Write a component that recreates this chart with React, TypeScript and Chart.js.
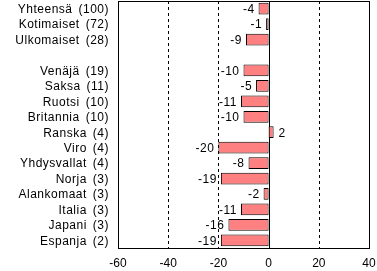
import React, { useEffect, useRef } from 'react';
import { Chart, registerables } from 'chart.js';
Chart.register(...registerables);

const categories = ['Yhteensä', 'Kotimaiset', 'Ulkomaiset', '', 'Venäjä', 'Saksa', 'Ruotsi', 'Britannia', 'Ranska', 'Viro', 'Yhdysvallat', 'Norja', 'Alankomaat', 'Italia', 'Japani', 'Espanja'];
const shares = ['100', '72', '28', '', '19', '11', '10', '10', '4', '4', '4', '3', '3', '3', '3', '2'];
const values: (number | null)[] = [-4, -1, -9, null, -10, -5, -11, -10, 2, -20, -8, -19, -2, -11, -16, -19];
const dashedGrid = [-40, -20, 20];

const FONT = '"Liberation Sans", Arial, sans-serif';

const decorPlugin = {
  id: 'decor',
  beforeDatasetsDraw(chart: any) {
    const { ctx, chartArea, scales } = chart;
    const x = scales.x;
    ctx.save();
    ctx.strokeStyle = '#000';
    ctx.lineWidth = 1;
    ctx.setLineDash([3, 3]);
    dashedGrid.forEach((v) => {
      const px = Math.round(x.getPixelForValue(v)) + 0.5;
      ctx.beginPath();
      ctx.moveTo(px, chartArea.top);
      ctx.lineTo(px, chartArea.bottom);
      ctx.stroke();
    });
    ctx.setLineDash([]);
    const z = Math.round(x.getPixelForValue(0)) + 0.5;
    ctx.beginPath();
    ctx.moveTo(z, chartArea.top);
    ctx.lineTo(z, chartArea.bottom);
    ctx.stroke();
    ctx.strokeRect(
      Math.round(chartArea.left) + 0.5,
      Math.round(chartArea.top) + 0.5,
      Math.round(chartArea.right - chartArea.left),
      Math.round(chartArea.bottom - chartArea.top)
    );
    ctx.restore();
  },
  afterDatasetsDraw(chart: any) {
    const { ctx, chartArea, scales } = chart;
    const x = scales.x;
    const y = scales.y;
    ctx.save();
    ctx.fillStyle = '#000';
    ctx.textBaseline = 'middle';
    ctx.font = `12px ${FONT}`;
    values.forEach((v, i) => {
      if (v === null) return;
      const py = y.getPixelForValue(i) + 1;
      const px = x.getPixelForValue(v);
      (ctx as any).letterSpacing = '0.5px';
      if (v < 0) {
        ctx.textAlign = 'right';
        ctx.fillText(String(v), px - 4, py);
      } else {
        ctx.textAlign = 'left';
        ctx.fillText(String(v), px + 5, py);
      }
    });
    (ctx as any).letterSpacing = '0.5px';
    categories.forEach((c, i) => {
      if (!c) return;
      const py = y.getPixelForValue(i) + 1;
      const countText = `(${shares[i]})`;
      const rightEdge = chartArea.left - 9;
      ctx.textAlign = 'right';
      ctx.fillText(countText, rightEdge, py);
      const w = ctx.measureText(countText).width;
      ctx.fillText(c, rightEdge - w - 6, py);
    });
    ctx.restore();
  },
};

export default function App() {
  const ref = useRef<HTMLCanvasElement | null>(null);
  useEffect(() => {
    if (!ref.current) return;
    const chart = new Chart(ref.current, {
      type: 'bar',
      data: {
        labels: categories,
        datasets: [
          {
            data: values,
            backgroundColor: '#FF8080',
            borderColor: '#000',
            borderWidth: 1,
            borderSkipped: false,
            categoryPercentage: 1,
            barPercentage: 0.76,
          },
        ],
      },
      options: {
        indexAxis: 'y',
        animation: false,
        responsive: true,
        maintainAspectRatio: false,
        layout: { padding: { top: 1, right: 8, left: 0, bottom: 0 } },
        plugins: { legend: { display: false }, tooltip: { enabled: false } },
        scales: {
          x: {
            min: -60,
            max: 40,
            ticks: {
              stepSize: 20,
              color: '#000',
              font: { family: FONT, size: 12 },
              padding: 8,
            },
            grid: { display: false, drawTicks: false },
            border: { display: false },
            afterFit: (s: any) => {
              s.height = 23;
              s.paddingLeft = 0;
              s.paddingRight = 0;
            },
          },
          y: {
            type: 'category',
            ticks: { display: false },
            grid: { display: false, drawTicks: false },
            border: { display: false },
            afterFit: (s: any) => {
              s.width = 118;
              s.paddingTop = 0;
              s.paddingBottom = 0;
            },
          },
        },
      },
      plugins: [decorPlugin],
    });
    return () => chart.destroy();
  }, []);
  return (
    <div style={{ position: 'fixed', left: 0, top: 0, width: 377, height: 271, background: '#fff' }}>
      <canvas ref={ref} />
    </div>
  );
}
